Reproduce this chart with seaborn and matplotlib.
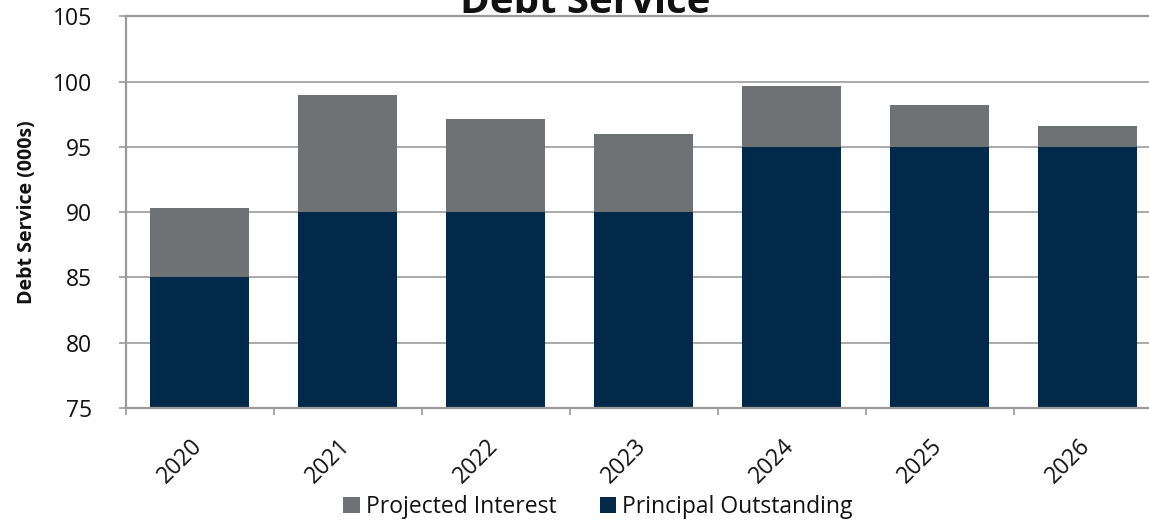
import matplotlib
matplotlib.use("Agg")
import matplotlib.pyplot as plt
import matplotlib.transforms as mtransforms
from matplotlib.patches import Patch
import seaborn as sns
import numpy as np

years = ["2020", "2021", "2022", "2023", "2024", "2025", "2026"]
principal = [85, 90, 90, 90, 95, 95, 95]
interest = [5.33, 9.0, 7.17, 6.0, 4.67, 3.22, 1.63]
y_ticks = [75, 80, 85, 90, 95, 100, 105]

series_names = ["Projected Interest", "Principal Outstanding"]
gray = "#6E7275"
navy = "#03294A"

sns.set_theme(style="white")
plt.rcParams["font.family"] = ["Open Sans", "DejaVu Sans"]

W, H = 1149, 523
fig = plt.figure(figsize=(W / 100, H / 100), dpi=100)
ax_left, ax_right = 125.5, 125.5 + 7 * 148
ax_top, ax_bot = 16.4, 408
ax = fig.add_axes([ax_left / W, (H - ax_bot) / H, (ax_right - ax_left) / W, (ax_bot - ax_top) / H])

totals = [p + i for p, i in zip(principal, interest)]
sns.barplot(x=years, y=totals, color=gray, saturation=1, width=0.67, ax=ax, linewidth=0)
sns.barplot(x=years, y=principal, color=navy, saturation=1, width=0.67, ax=ax, linewidth=0)

ax.set_xlim(-0.5, len(years) - 0.5)
ax.set_ylim(y_ticks[0], y_ticks[-1])
ax.set_yticks(y_ticks)
ax.set_axisbelow(True)
ax.yaxis.grid(True, color="#A3A3A3", linewidth=1.3)
ax.xaxis.grid(False)

for side in ["left", "bottom", "top"]:
    ax.spines[side].set_visible(True)
    ax.spines[side].set_color("#9A9A9A")
    ax.spines[side].set_linewidth(1.6)
ax.spines["right"].set_visible(False)

fs = 16.5
ax.tick_params(axis="y", which="major", length=5, width=1.2, color="#9A9A9A",
               pad=19, labelsize=fs, labelcolor="#111111", left=True)
ax.set_xticks(np.arange(len(years)))
ax.set_xticks(np.arange(len(years) + 1) - 0.5, minor=True)
ax.tick_params(axis="x", which="major", length=0, pad=19, labelsize=fs, labelcolor="#111111")
ax.tick_params(axis="x", which="minor", length=5, width=1.2, color="#9A9A9A", bottom=True)
offset = mtransforms.ScaledTranslation(8 / 100, 0, fig.dpi_scale_trans)
for lab in ax.get_xticklabels():
    lab.set_rotation(45)
    lab.set_ha("right")
    lab.set_va("top")
    lab.set_transform(lab.get_transform() + offset)

ax.set_xlabel("")
ax.set_ylabel("Debt Service (000s)", fontsize=14, fontweight="bold", color="#111111")
ax.yaxis.set_label_coords((37 - ax_left) / (ax_right - ax_left), 0.5)

fig.text(585 / W, 1 - 13 / H, "Debt Service", ha="center", va="baseline",
         fontsize=29, fontweight="bold", color="#111111")

handles = [Patch(facecolor=gray, edgecolor="none"), Patch(facecolor=navy, edgecolor="none")]
fig.legend(handles, series_names, loc="center", bbox_to_anchor=(598 / W, 1 - 507 / H),
           ncol=2, frameon=False, fontsize=fs, handlelength=0.72, handleheight=0.72,
           handletextpad=0.25, columnspacing=1.9, labelcolor="#111111")

fig.savefig("out.png", dpi=100)
